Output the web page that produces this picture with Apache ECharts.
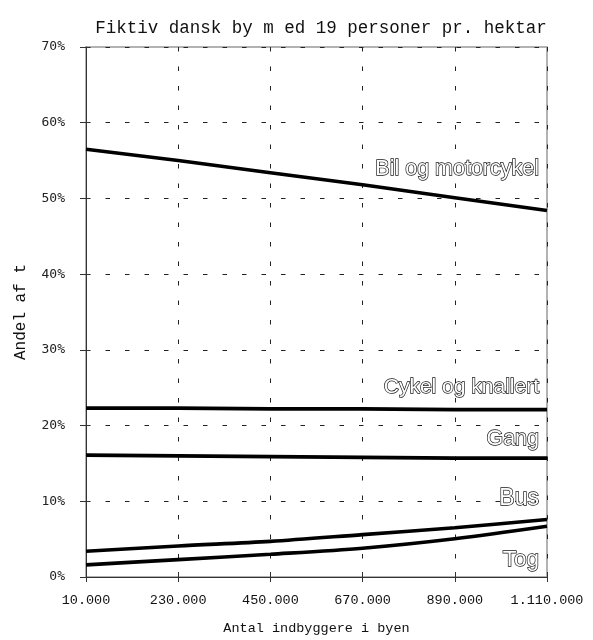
<!DOCTYPE html>
<html><head><meta charset="utf-8">
<script src="https://cdn.jsdelivr.net/npm/echarts@6/dist/echarts.min.js"></script>
<style>html,body{margin:0;padding:0;background:#fff}#c{width:593px;height:640px}</style>
</head><body><div id="c"></div>
<script>
const titleText = 'Fiktiv dansk by m ed 19 personer pr. hektar';
const xName = 'Antal indbyggere i byen';
const yName = 'Andel af t';
const xValues = [10000, 230000, 450000, 670000, 890000, 1110000];
const yTicks = [0, 10, 20, 30, 40, 50, 60, 70];
const names = ['Bil og motorcykel', 'Cykel og knallert', 'Gang', 'Bus', 'Tog'];
const bil    = [56.5, 55.0, 53.4, 51.8, 50.1, 48.4];
const cykel  = [22.3, 22.3, 22.2, 22.2, 22.1, 22.1];
const gang   = [16.1, 16.0, 15.9, 15.8, 15.7, 15.7];
const bus    = [3.4, 4.1, 4.7, 5.6, 6.5, 7.6];
const tog    = [1.6, 2.3, 3.0, 3.8, 5.05, 6.7];
const values = [bil, cykel, gang, bus, tog];

// label styling per series (not data)
const labelStyle = [
  {size: 21.5, dy: -41},
  {size: 21, dy: -22},
  {size: 21.5, dy: -19},
  {size: 23, dy: -21},
  {size: 22.5, dy: 34}
];

const fmtX = v => String(v).replace(/\B(?=(\d{3})+(?!\d))/g, '.');
const mono = "'Liberation Mono', 'Courier New', monospace";
const dash = [4.5, 15];

const series = names.map((n, si) => {
  const vals = values[si];
  const last = vals.length - 1;
  return {
    name: n,
    type: 'line',
    smooth: (si >= 3) ? 0.3 : false,
    showSymbol: true,
    symbol: 'circle',
    symbolSize: 0,
    silent: true,
    lineStyle: {color: '#000', width: 3.6},
    itemStyle: {color: '#000'},
    emphasis: {disabled: true},
    data: xValues.map((x, i) => i === last ? {
      value: [x, vals[i]],
      label: {
        show: true,
        formatter: n,
        position: 'left',
        distance: 5,
        offset: [-3, labelStyle[si].dy],
        fontFamily: "'Liberation Sans', Arial, sans-serif",
        fontSize: labelStyle[si].size,
        color: '#fff',
        textBorderColor: '#111',
        textBorderWidth: 1.35
      }
    } : [x, vals[i]])
  };
});

const chart = echarts.init(document.getElementById('c'), null, {renderer: 'canvas'});
chart.setOption({
  animation: false,
  backgroundColor: '#fff',
  title: {
    text: titleText,
    left: 316, textAlign: 'center', top: 14,
    textStyle: {fontFamily: mono, fontSize: 17.5, fontWeight: 'normal', color: '#111'}
  },
  grid: {left: 86, right: 46, top: 47, bottom: 58, show: true, borderColor: '#999', borderWidth: 1.5, backgroundColor: 'transparent'},
  xAxis: [{
    type: 'value', min: xValues[0], max: xValues[xValues.length - 1], interval: xValues[1] - xValues[0],
    name: xName, nameLocation: 'middle', nameGap: 44,
    nameTextStyle: {fontFamily: mono, fontSize: 13.5, color: '#111'},
    axisLine: {show: true, lineStyle: {color: '#333', width: 1}},
    axisTick: {show: true, length: 5, lineStyle: {color: '#333'}},
    axisLabel: {formatter: fmtX, fontFamily: mono, fontSize: 13.5, color: '#111', margin: 16},
    splitLine: {show: true, lineStyle: {color: '#222', type: dash, width: 1}}
  }, {
    type: 'value', min: xValues[0], max: xValues[xValues.length - 1], interval: xValues[1] - xValues[0],
    position: 'bottom',
    axisLine: {show: false}, axisLabel: {show: false}, splitLine: {show: false},
    axisTick: {show: true, inside: true, length: 5, lineStyle: {color: '#333'}}
  }],
  yAxis: [{
    type: 'value', min: yTicks[0], max: yTicks[yTicks.length - 1], interval: yTicks[1] - yTicks[0],
    name: yName, nameLocation: 'middle', nameGap: 57, nameRotate: 90,
    nameTextStyle: {fontFamily: mono, fontSize: 16, color: '#111'},
    axisLine: {show: true, lineStyle: {color: '#333', width: 1}},
    axisTick: {show: true, length: 6, lineStyle: {color: '#333'}},
    axisLabel: {formatter: '{value}%', fontFamily: "'DejaVu Sans Mono', monospace", fontSize: 13, color: '#222', margin: 21},
    splitLine: {show: true, lineStyle: {color: '#222', type: dash, width: 1}}
  }, {
    type: 'value', min: yTicks[0], max: yTicks[yTicks.length - 1], interval: yTicks[1] - yTicks[0],
    position: 'left',
    axisLine: {show: false}, axisLabel: {show: false}, splitLine: {show: false},
    axisTick: {show: true, inside: true, length: 3, lineStyle: {color: '#333'}}
  }],
  series: series
});
</script>
</body></html>
